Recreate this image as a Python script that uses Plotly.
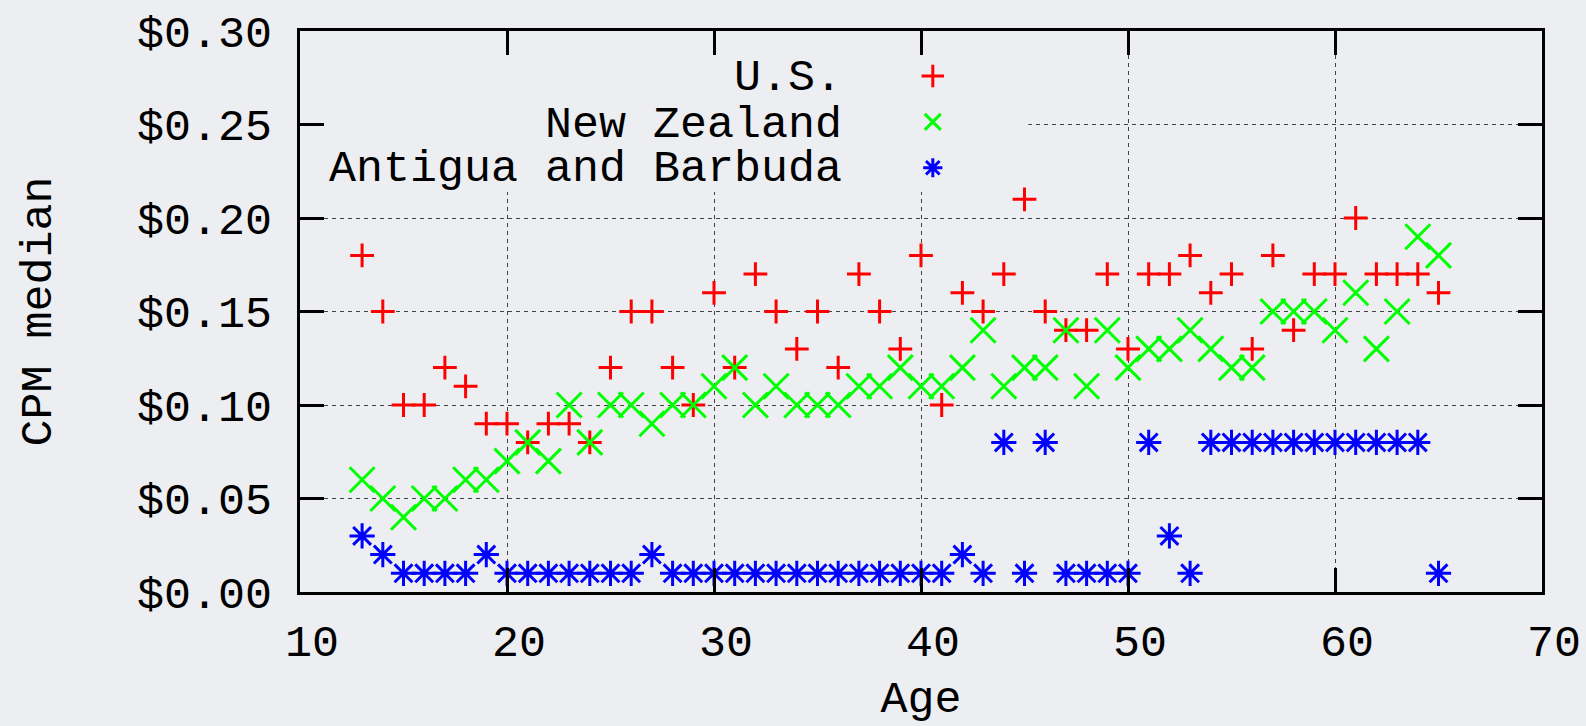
import plotly.graph_objects as go

ages = [13, 14, 15, 16, 17, 18, 19, 20, 21, 22, 23, 24, 25, 26, 27, 28, 29, 30,
        31, 32, 33, 34, 35, 36, 37, 38, 39, 40, 41, 42, 43, 44, 45, 46, 47, 48,
        49, 50, 51, 52, 53, 54, 55, 56, 57, 58, 59, 60, 61, 62, 63, 64, 65]

us = [0.18, 0.15, 0.10, 0.10, 0.12, 0.11, 0.09, 0.09, 0.08, 0.09, 0.09, 0.08,
      0.12, 0.15, 0.15, 0.12, 0.10, 0.16, 0.12, 0.17, 0.15, 0.13, 0.15, 0.12,
      0.17, 0.15, 0.13, 0.18, 0.10, 0.16, 0.15, 0.17, 0.21, 0.15, 0.14, 0.14,
      0.17, 0.13, 0.17, 0.17, 0.18, 0.16, 0.17, 0.13, 0.18, 0.14, 0.17, 0.17,
      0.20, 0.17, 0.17, 0.17, 0.16]

new_zealand = [0.06, 0.05, 0.04, 0.05, 0.05, 0.06, 0.06, 0.07, 0.08, 0.07, 0.10, 0.08,
               0.10, 0.10, 0.09, 0.10, 0.10, 0.11, 0.12, 0.10, 0.11, 0.10, 0.10, 0.10,
               0.11, 0.11, 0.12, 0.11, 0.11, 0.12, 0.14, 0.11, 0.12, 0.12, 0.14, 0.11,
               0.14, 0.12, 0.13, 0.13, 0.14, 0.13, 0.12, 0.12, 0.15, 0.15, 0.15, 0.14,
               0.16, 0.13, 0.15, 0.19, 0.18]

antigua = [0.03, 0.02, 0.01, 0.01, 0.01, 0.01, 0.02, 0.01, 0.01, 0.01, 0.01, 0.01,
           0.01, 0.01, 0.02, 0.01, 0.01, 0.01, 0.01, 0.01, 0.01, 0.01, 0.01, 0.01,
           0.01, 0.01, 0.01, 0.01, 0.01, 0.02, 0.01, 0.08, 0.01, 0.08, 0.01, 0.01,
           0.01, 0.01, 0.08, 0.03, 0.01, 0.08, 0.08, 0.08, 0.08, 0.08, 0.08, 0.08,
           0.08, 0.08, 0.08, 0.08, 0.01]

series_names = ["U.S.", "New Zealand", "Antigua and Barbuda"]
x_ticks = [10, 20, 30, 40, 50, 60, 70]
y_ticks = [0.00, 0.05, 0.10, 0.15, 0.20, 0.25, 0.30]
y_tick_labels = ["$0.00", "$0.05", "$0.10", "$0.15", "$0.20", "$0.25", "$0.30"]
x_title = "Age"
y_title = "CPM median"

BG = "#eceef1"
FONT = "Courier New, Courier, Liberation Mono, monospace"

fig = go.Figure()

styles = [
    (us, "#ff0000", "cross-thin-open", 17),
    (new_zealand, "#00ff00", "x-thin-open", 25),
    (antigua, "#0000ff", "asterisk-open", 21),
]
for (vals, color, symbol, size), nm in zip(styles, series_names):
    fig.add_trace(go.Scatter(
        x=ages, y=vals, mode="markers", name=" ",
        hovertext=[nm] * len(vals),
        marker=dict(symbol=symbol, size=size, color=color,
                    line=dict(color=color, width=3)),
    ))

# opaque key area (masks grid lines like gnuplot's opaque key)
fig.add_shape(type="rect", xref="x", yref="y", x0=10, x1=45.18, y0=0.2139, y1=0.30,
              fillcolor=BG, line=dict(width=0), layer="between")

# key labels (right-aligned, symbols to their right)
label_rows = [0.2744, 0.2496, 0.2258]
for nm, yy in zip(series_names, label_rows):
    fig.add_annotation(x=0.4381, xref="paper", y=yy, yref="y", text=nm,
                       showarrow=False, xanchor="right", yanchor="middle",
                       font=dict(family=FONT, size=45, color="black"))

axis_common = dict(
    showline=True, linecolor="black", linewidth=3, mirror="ticks",
    ticks="inside", ticklen=24, tickwidth=3, tickcolor="black",
    showgrid=True, gridcolor="#444444", gridwidth=1, griddash="4px,4px",
    zeroline=False, automargin=False,
    tickfont=dict(family=FONT, size=45, color="black"),
)

fig.update_xaxes(range=[10, 70], tickvals=x_ticks, ticklabelstandoff=7,
                 ticklabelshift=12,
                 title=dict(text=x_title, font=dict(family=FONT, size=45, color="black"),
                            standoff=27),
                 **axis_common)
fig.update_yaxes(range=[0, 0.30], tickvals=y_ticks, ticktext=y_tick_labels,
                 ticklabelstandoff=16,
                 title=dict(text=y_title, font=dict(family=FONT, size=45, color="black"),
                            standoff=72),
                 **axis_common)

fig.update_layout(
    width=1586, height=726,
    margin=dict(l=300, r=44, t=31, b=134),
    paper_bgcolor=BG, plot_bgcolor=BG,
    showlegend=True,
    legend=dict(x=0.4934, xanchor="left", y=0.9697, yanchor="top",
                bgcolor="rgba(0,0,0,0)", borderwidth=0,
                font=dict(family=FONT, size=33, color="black"),
                itemsizing="trace"),
)

fig.write_html("out.html")
